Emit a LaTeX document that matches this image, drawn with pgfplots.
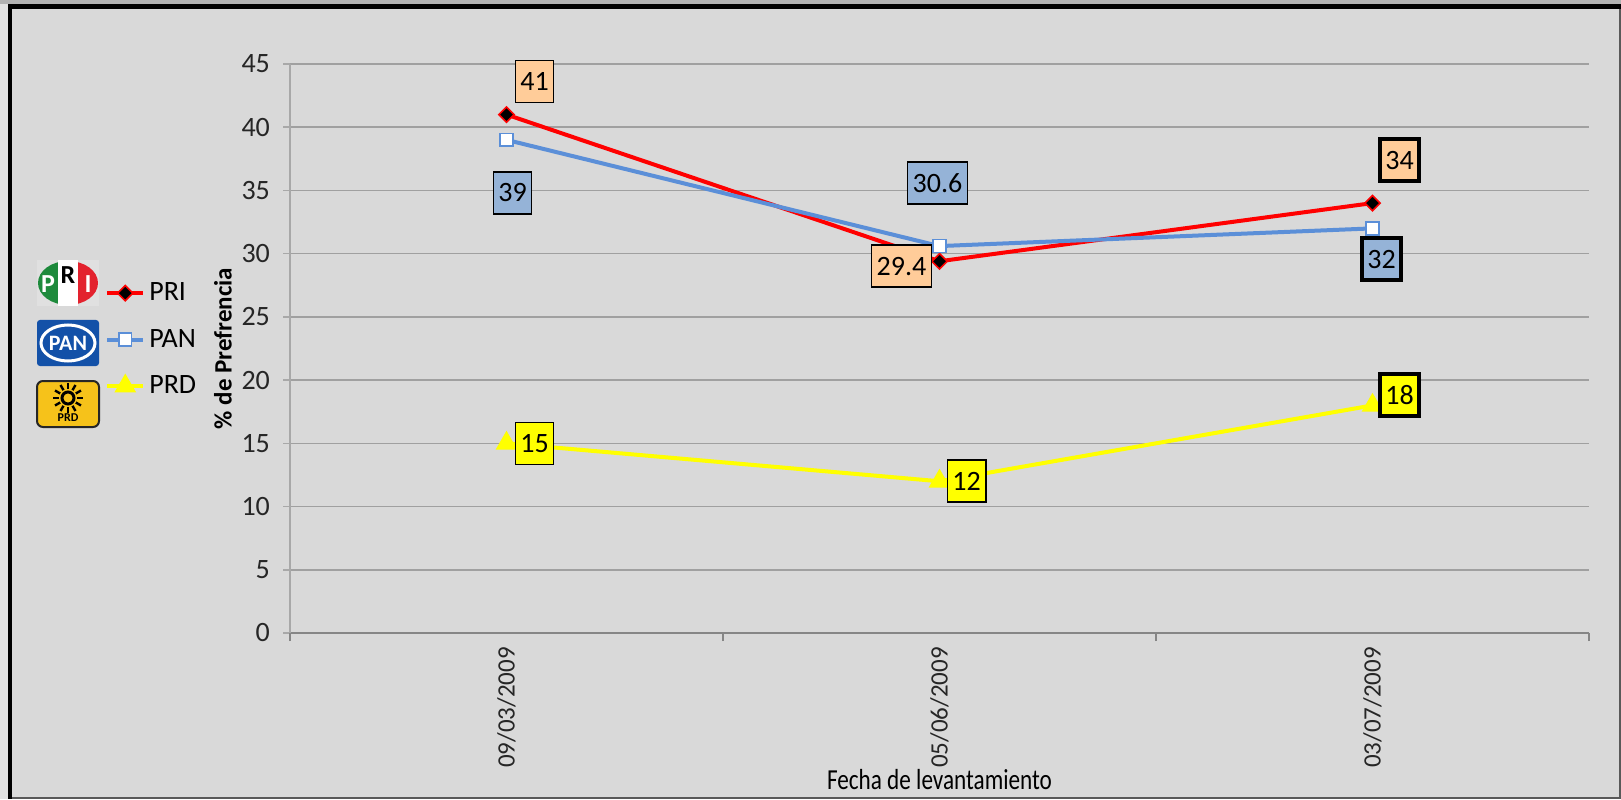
\documentclass[border=0pt]{standalone}
\usepackage{pgfplots}
\pgfplotsset{compat=1.18}
\usepackage{pgfplotstable}
\usepackage{fontspec}
\setmainfont{Carlito}
\newfontfamily\condfont{Carlito}[FakeStretch=0.8]

\definecolor{chartbg}{HTML}{D9D9D9}
\definecolor{outerbg}{HTML}{E2E2E2}
\definecolor{gridgray}{HTML}{A0A0A0}
\definecolor{axisgray}{HTML}{A8A8A8}
\definecolor{xaxisgray}{HTML}{868686}
\definecolor{prired}{HTML}{FF0000}
\definecolor{panblue}{HTML}{5B8FD8}
\definecolor{prdyellow}{HTML}{FFFF00}
\definecolor{prilab}{HTML}{FFCC99}
\definecolor{panlab}{HTML}{95B3D7}
\definecolor{prigreen}{HTML}{1E8A3C}
\definecolor{prilogored}{HTML}{E3222E}
\definecolor{panlogo}{HTML}{1351A8}
\definecolor{prdgold}{HTML}{F6C21A}

% x y label xshift yshift border
\pgfplotstableread{
x y lab dx dy lw
0 41 41 14 16.5 0.8
1 29.4 29.4 -19 -2.5 0.8
2 34 34 13.5 21.5 2
}\priData
\pgfplotstableread{
x y lab dx dy lw
0 39 39 3 -26.5 0.8
1 30.6 30.6 -1 31.5 0.8
2 32 32 4.5 -15.5 2
}\panData
\pgfplotstableread{
x y lab dx dy lw
0 15 15 14 0 0.8
1 12 12 13.5 0 0.8
2 18 18 13.5 5 2
}\prdData

\pgfplotsset{
  lab/.style={
    forget plot, draw=none, mark=none,
    nodes near coords,
    point meta=explicit symbolic,
    visualization depends on={\thisrow{dx}\as\dx},
    visualization depends on={\thisrow{dy}\as\dy},
    visualization depends on={\thisrow{lw}\as\lw},
    nodes near coords style={anchor=center, xshift=\dx pt, yshift=\dy pt,
      draw=black, line width=\lw pt, fill=#1, text=black,
      font=\fontsize{14}{16}\selectfont, minimum height=21pt, inner xsep=2.5pt},
  },
}

\begin{document}
\begin{tikzpicture}
% frame and background, in pixels of the reference
\begin{scope}[x=0.5pt,y=-0.5pt,shift={(0pt,399.5pt)}]
  \fill[outerbg] (0,0) rectangle (1621,799);
  \fill[black!30] (0,0) rectangle (1621,4);
  \fill[black] (8,4) rectangle (1621,799);
  \fill[black!65] (12,9) rectangle (1621,799);
  \fill[chartbg] (12,9) rectangle (1619,797);
  % PRI logo
  \fill[black!12] (37,260) rectangle (99,306);
  \begin{scope}
    \clip (68,283) ellipse (30 and 22);
    \fill[prigreen] (37,258) rectangle (58,308);
    \fill[prilogored] (78,258) rectangle (99,308);
  \end{scope}
  \fill[white] (58,260) rectangle (78,306);
  \node[text=white, font=\bfseries\fontsize{13}{13}\selectfont] at (48,284) {P};
  \node[text=black, font=\bfseries\fontsize{13}{13}\selectfont] at (68,275) {R};
  \node[text=white, font=\bfseries\fontsize{13}{13}\selectfont] at (88,284) {I};
  % PAN logo
  \fill[panlogo, rounded corners=1.5pt] (37,320) rectangle (99,366);
  \draw[white, line width=1.5pt] (68,343) ellipse (27 and 18);
  \node[text=white, font=\bfseries\fontsize{11}{11}\selectfont] at (68,343) {PAN};
  % PRD logo
  \filldraw[fill=prdgold, draw=black!85, line width=1pt, rounded corners=3pt] (37,381) rectangle (99,427);
  \draw[black, line width=1.5pt] (68,398) circle (6);
  \foreach \a in {0,30,...,330} \draw[black, line width=1.2pt] (68,398) ++(\a:9) -- ++(\a:6);
  \node[text=black, font=\bfseries\fontsize{6}{6}\selectfont] at (68,418) {PRD};
\end{scope}

\begin{axis}[
  at={(145pt,83pt)}, anchor=south west,
  width=649.5pt, height=284.5pt, scale only axis,
  xmin=-0.5, xmax=2.5, ymin=0, ymax=45,
  axis x line*=bottom, axis y line*=left,
  clip=false,
  ytick={0,5,...,45},
  ymajorgrids, grid style={gridgray, line width=0.8pt},
  y axis line style={axisgray, line width=1pt},
  x axis line style={xaxisgray, line width=1pt},
  tick align=outside, major tick length=3.5pt,
  tick style={axisgray, line width=0.8pt},
  xtick={0,1,2},
  xticklabels={09/03/2009,05/06/2009,03/07/2009},
  xtick style={draw=none},
  extra x ticks={-0.5,0.5,1.5,2.5}, extra x tick labels={},
  extra x tick style={xtick style={draw=xaxisgray, line width=0.8pt}, major tick length=4pt},
  ticklabel style={font=\fontsize{14}{16}\selectfont, text=black!85},
  y tick label style={xshift=-3pt},
  x tick label style={rotate=90, anchor=east, font=\fontsize{12.5}{14}\selectfont},
  /pgf/number format/assume math mode=true,
  ylabel={\% de Prefrencia},
  ylabel style={font=\bfseries\fontsize{12.5}{14}\selectfont, at={(-0.0516,0.5)}, anchor=center},
  xlabel={Fecha de levantamiento},
  xlabel style={font=\condfont\fontsize{14.5}{16}\selectfont, at={(0.5,-0.258)}, anchor=center},
  legend style={at={(-0.1425,0.6234)}, anchor=north west, draw=none, fill=none,
    font=\fontsize{14}{16}\selectfont, row sep=8.75pt, inner sep=0pt},
  legend cell align=left,
  legend image code/.code={\draw[mark repeat=2,mark phase=2] plot coordinates {(0pt,0pt) (9pt,0pt) (18pt,0pt)};},
]
\addplot[color=prired, line width=2pt, mark=square*, mark size=2.7pt,
  mark options={rotate=45, fill=black, draw=prired, line width=0.8pt}]
  table[x=x, y=y] {\priData};
\addlegendentry{PRI}
\addplot[color=panblue, line width=2pt, mark=square*, mark size=3.2pt,
  mark options={fill=white, draw=panblue, line width=0.8pt}]
  table[x=x, y=y] {\panData};
\addlegendentry{PAN}
\addplot[color=prdyellow, line width=2pt, mark=triangle*, mark size=4.3pt,
  mark options={fill=prdyellow, draw=none}]
  table[x=x, y=y] {\prdData};
\addlegendentry{PRD}
\addplot[lab=prilab] table[x=x, y=y, meta=lab] {\priData};
\addplot[lab=panlab] table[x=x, y=y, meta=lab] {\panData};
\addplot[lab=prdyellow] table[x=x, y=y, meta=lab] {\prdData};
\end{axis}
\pgfresetboundingbox
\useasboundingbox (0,0) rectangle (810.5pt,399.5pt);
\end{tikzpicture}
\end{document}
